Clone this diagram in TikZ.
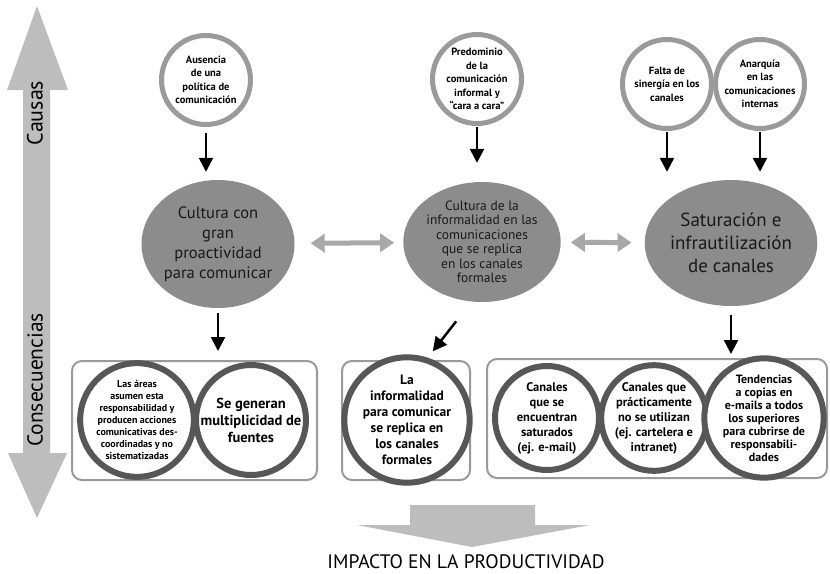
\documentclass[tikz,border=0pt]{standalone}
\usepackage{fontspec}
\setmainfont{PT Sans}
\usetikzlibrary{arrows.meta,shapes.geometric}
\usetikzlibrary{positioning}
\definecolor{grisclaro}{HTML}{BDBDBD}
\definecolor{grisborde}{HTML}{9A9A9A}
\definecolor{grismedio}{HTML}{8C8C8C}
\definecolor{grisoscuro}{HTML}{575757}
\definecolor{grisflecha}{HTML}{A8A8A8}
\tikzstyle{causa} = [circle, draw=grisborde, line width=5pt, fill=white, minimum size=89pt, inner sep=0pt, align=center, font=\fontsize{10.5}{13.5}\selectfont\bfseries]
\tikzstyle{nucleo} = [ellipse, fill=grismedio, minimum width=128pt, minimum height=128pt, inner sep=0pt, align=center, text=black!90]
\tikzstyle{caja} = [rectangle, rounded corners=10pt, draw=grisborde, line width=2pt, minimum height=119pt]
\tikzstyle{efecto} = [circle, draw=grisoscuro, line width=6pt, fill=white, minimum size=106pt, inner sep=0pt, align=center]
\tikzstyle{flecha} = [-{Triangle[length=14pt,width=14pt]}, line width=2.5pt]
\tikzstyle{dobleflecha} = [{Triangle[length=14pt,width=18pt]}-{Triangle[length=14pt,width=18pt]}, line width=5pt, draw=grisflecha]

\begin{document}
\begin{tikzpicture}[x=1pt, y=-1pt]
\useasboundingbox (0,0) rectangle (830,573);

% eje causas / consecuencias
\fill[grisclaro] (37,6) -- (68,90) -- (50,90) -- (50,453) -- (67,453) -- (37,518)
  -- (8,453) -- (23,453) -- (23,90) -- (7,90) -- cycle;
\node (causas) [rotate=90, font=\fontsize{22}{22}\selectfont] at (35,113) {Causas};
\node (consec) [rotate=90, font=\fontsize{21.5}{22}\selectfont] at (35,380) {Consecuencias};

% causas
\node (aus) [causa] at (206,80) {Ausencia\\de una\\política de\\comunicación};
\node (pred) [causa] at (477,79) {Predominio\\de la\\comunicación\\informal y\\``cara a cara''};
\node (falta) [causa] at (667,84) {Falta de\\sinergía en los\\canales};
\node (anar) [causa] at (760,84) {Anarquía\\en las\\comunicaciones\\internas};

% problemas centrales
\node (cult) [nucleo, font=\fontsize{16.5}{20}\selectfont] at (218,244) {Cultura con\\gran\\proactividad\\para comunicar};
\node (inf) [nucleo, minimum height=120pt, font=\fontsize{13.5}{14.5}\selectfont] at (482,242) {Cultura de la\\informalidad en las\\comunicaciones\\que se replica\\en los canales\\formales};
\node (sat) [nucleo, minimum width=130pt, minimum height=126pt, font=\fontsize{19}{23}\selectfont] at (731,243) {Saturación e\\infrautilización\\de canales};

% consecuencias
\node (box1) [caja, minimum width=245pt] at (194.5,420.5) {};
\node (box2) [caja, minimum width=128pt] at (406,420.5) {};
\node (box3) [caja, minimum width=340pt] at (657,418.5) {};

\node (areas) [efecto, font=\fontsize{10}{12}\selectfont\bfseries] at (137,420) {Las áreas\\asumen esta\\responsabilidad y\\producen acciones\\comunicativas des-\\coordinadas y no\\sistematizadas};
\node (fuentes) [efecto, font=\fontsize{14.5}{17}\selectfont\bfseries] at (251,420) {Se generan\\multiplicidad de\\fuentes};
\node (replica) [efecto, font=\fontsize{13.5}{16}\selectfont\bfseries] at (407,420) {La\\informalidad\\para comunicar\\se replica en\\los canales\\formales};
\node (satur) [efecto, minimum size=104pt, font=\fontsize{12.5}{15}\selectfont\bfseries] at (547,418) {Canales\\que se\\encuentran\\saturados\\(ej. e-mail)};
\node (noutil) [efecto, minimum size=104pt, font=\fontsize{12.5}{15}\selectfont\bfseries] at (654,418) {Canales que\\prácticamente\\no se utilizan\\(ej. cartelera e\\intranet)};
\node (copias) [efecto, minimum size=104pt, font=\fontsize{12}{13}\selectfont\bfseries] at (764,418) {Tendencias\\a copias en\\e-mails a todos\\los superiores\\para cubrirse de\\responsabili-\\dades};

% flechas
\draw[flecha, shorten <=6pt, shorten >=8pt] (aus.south) -- (aus.south |- cult.north);
\draw[flecha, shorten <=1pt, shorten >=19pt] (pred.south) -- (pred.south |- inf.north);
\draw[flecha, shorten <=1pt, shorten >=8pt] (falta.south) -- (falta.south |- sat.north);
\draw[flecha, shorten <=1pt, shorten >=8pt] (anar.south) -- (anar.south |- sat.north);

\draw[dobleflecha, shorten <=16pt, shorten >=9pt] (cult) -- (inf);
\draw[dobleflecha, shorten <=10pt, shorten >=13pt] (inf) -- (sat);

\draw[flecha, shorten <=5pt, shorten >=9pt] (cult.south) -- (cult.south |- box1.north);
\draw[flecha, shorten <=25pt, shorten >=11pt] (inf.-100) -- ([xshift=20pt]box2.north);
\draw[flecha, shorten <=9pt, shorten >=4pt] (sat.south) -- (sat.south |- box3.north);

% impacto
\fill[grisclaro] (410,505) -- (535,505) -- (535,525) -- (590,525) -- (472,547)
  -- (357,525) -- (410,525) -- cycle;
\node (impacto) [font=\fontsize{19.5}{20}\selectfont] at (466,562) {IMPACTO EN LA PRODUCTIVIDAD};

\end{tikzpicture}
\end{document}
